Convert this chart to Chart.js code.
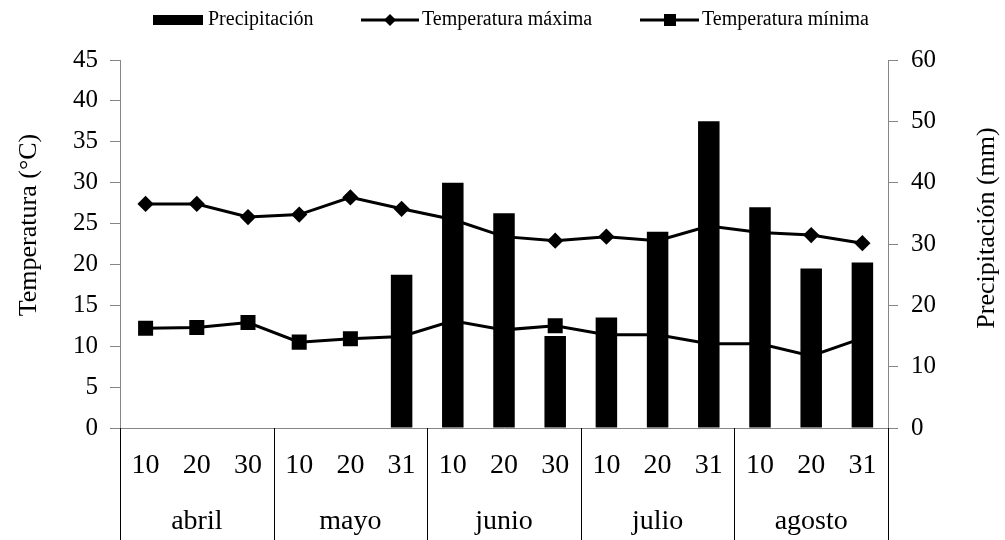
<!DOCTYPE html>
<html lang="es">
<head>
    <meta charset="UTF-8" />
    <title>Temperatura y precipitación</title>
    <script src="https://cdn.jsdelivr.net/npm/chart.js"></script>
    <style>
        body {
            margin: 0;
            background: #fff;
        }
        #wrap {
            width: 1005px;
            height: 540px;
        }
    </style>
</head>
<body>
    <div id="wrap"><canvas id="chart" width="1005" height="540"></canvas></div>
    <script>
        // Data
        const days = ["10", "20", "30", "10", "20", "31", "10", "20", "30", "10", "20", "31", "10", "20", "31"];
        const months = ["abril", "mayo", "junio", "julio", "agosto"];
        const precipitacion = [0, 0, 0, 0, 0, 25, 40, 35, 15, 18, 32, 50, 36, 26, 27];
        const tempMax = [27.4, 27.4, 25.8, 26.1, 28.2, 26.8, 25.5, 23.4, 22.9, 23.4, 22.9, 24.7, 23.9, 23.6, 22.6];
        const tempMin = [12.2, 12.3, 12.9, 10.5, 10.9, 11.2, 13.1, 12.0, 12.5, 11.4, 11.4, 10.3, 10.3, 8.8, 11.0];
        const seriesNames = ["Precipitación", "Temperatura máxima", "Temperatura mínima"];
        const axisTitles = ["Temperatura (°C)", "Precipitación (mm)"];

        const serif = '"Liberation Serif", "Times New Roman", serif';
        const axisGray = "#868686";

        const labels = days.map((d, i) => months[Math.floor(i / 3)] + " " + d);

        // month separators, axis titles and legend
        const extras = {
            id: "extras",
            afterDraw(chart) {
                const ctx = chart.ctx;
                const x = chart.scales.x;
                const area = chart.chartArea;
                ctx.save();

                ctx.strokeStyle = "#000";
                ctx.lineWidth = 1;
                for (let g = 0; g <= months.length; g++) {
                    const px = Math.round(x.getPixelForValue(g * 3 - 0.5)) + 0.5;
                    ctx.beginPath();
                    ctx.moveTo(px, area.bottom);
                    ctx.lineTo(px, chart.height);
                    ctx.stroke();
                }

                ctx.fillStyle = "#000";
                ctx.font = "26px " + serif;
                ctx.textAlign = "center";
                ctx.textBaseline = "middle";
                ctx.save();
                ctx.translate(29, 225);
                ctx.rotate(-Math.PI / 2);
                ctx.fillText(axisTitles[0], 0, 0);
                ctx.restore();
                ctx.save();
                ctx.translate(987, 228);
                ctx.rotate(-Math.PI / 2);
                ctx.fillText(axisTitles[1], 0, 0);
                ctx.restore();

                // legend
                const ly = 20;
                ctx.font = "20px " + serif;
                ctx.textAlign = "left";
                ctx.fillRect(153, ly - 5, 50, 10);
                ctx.fillText(seriesNames[0], 208, ly);

                ctx.lineWidth = 3;
                ctx.beginPath();
                ctx.moveTo(361, ly);
                ctx.lineTo(419, ly);
                ctx.stroke();
                ctx.beginPath();
                ctx.moveTo(390, ly - 6);
                ctx.lineTo(396, ly);
                ctx.lineTo(390, ly + 6);
                ctx.lineTo(384, ly);
                ctx.closePath();
                ctx.fill();
                ctx.fillText(seriesNames[1], 422, ly);

                ctx.beginPath();
                ctx.moveTo(640, ly);
                ctx.lineTo(699, ly);
                ctx.stroke();
                ctx.fillRect(664, ly - 6, 12, 12);
                ctx.fillText(seriesNames[2], 702, ly);

                ctx.restore();
            },
        };

        new Chart(document.getElementById("chart"), {
            data: {
                labels: labels,
                datasets: [
                    {
                        type: "bar",
                        label: seriesNames[0],
                        data: precipitacion,
                        yAxisID: "y1",
                        backgroundColor: "#000",
                        barPercentage: 0.42,
                        categoryPercentage: 1,
                        order: 0,
                    },
                    {
                        type: "line",
                        label: seriesNames[1],
                        data: tempMax,
                        yAxisID: "y",
                        borderColor: "#000",
                        backgroundColor: "#000",
                        borderWidth: 3,
                        pointStyle: "rectRot",
                        pointRadius: 6,
                        tension: 0,
                        order: 1,
                    },
                    {
                        type: "line",
                        label: seriesNames[2],
                        data: tempMin,
                        yAxisID: "y",
                        borderColor: "#000",
                        backgroundColor: "#000",
                        borderWidth: 3,
                        pointStyle: "rect",
                        pointRadius: 8.5,
                        tension: 0,
                        order: 2,
                    },
                ],
            },
            options: {
                responsive: false,
                animation: false,
                devicePixelRatio: 1,
                layout: { padding: { top: 60, left: 0, right: 0, bottom: 0 } },
                plugins: {
                    legend: { display: false },
                    tooltip: { enabled: false },
                },
                scales: {
                    x: {
                        offset: true,
                        grid: { display: false, drawTicks: false },
                        border: { color: axisGray, width: 1 },
                        ticks: {
                            autoSkip: false,
                            maxRotation: 0,
                            color: "#000",
                            padding: 10,
                            font: { family: serif, size: 28, lineHeight: 2.0 },
                            callback: (v, i) => [days[i], i % 3 === 1 ? months[Math.floor(i / 3)] : ""],
                        },
                        afterFit(s) {
                            s.height = 112;
                        },
                    },
                    y: {
                        position: "left",
                        min: 0,
                        max: 45,
                        ticks: {
                            stepSize: 5,
                            color: "#000",
                            padding: 12,
                            font: { family: serif, size: 25 },
                        },
                        grid: { drawOnChartArea: false, tickLength: 10, color: axisGray },
                        border: { color: axisGray, width: 1 },
                        afterFit(s) {
                            s.width = 120;
                        },
                    },
                    y1: {
                        position: "right",
                        min: 0,
                        max: 60,
                        ticks: {
                            stepSize: 10,
                            color: "#000",
                            padding: 13,
                            font: { family: serif, size: 25 },
                        },
                        grid: { drawOnChartArea: false, tickLength: 10, color: axisGray },
                        border: { color: axisGray, width: 1 },
                        afterFit(s) {
                            s.width = 117;
                        },
                    },
                },
            },
            plugins: [extras],
        });
    </script>
</body>
</html>
